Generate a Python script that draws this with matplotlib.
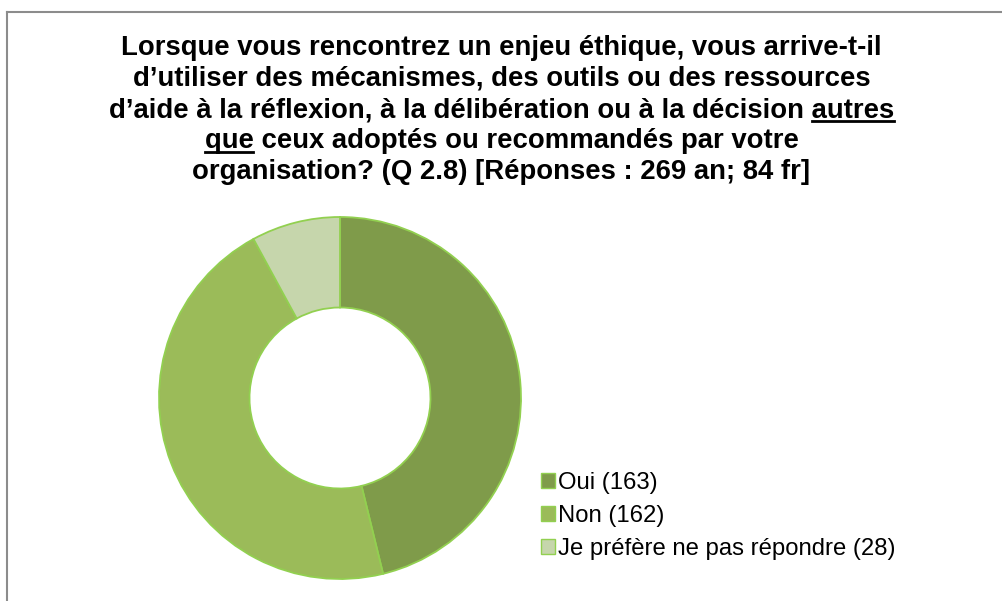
import matplotlib.pyplot as plt
from matplotlib.lines import Line2D

plt.rcParams['font.family'] = ['Liberation Sans', 'DejaVu Sans']

labels = ['Oui (163)', 'Non (162)', 'Je préfère ne pas répondre (28)']
counts = [163, 162, 28]
colors = ['#7F9B4A', '#9BBB59', '#C6D6AC']

title_lines = [
    'Lorsque vous rencontrez un enjeu éthique, vous arrive-t-il',
    'd’utiliser des mécanismes, des outils ou des ressources',
    'd’aide à la réflexion, à la délibération ou à la décision autres',
    'que ceux adoptés ou recommandés par votre',
    'organisation? (Q 2.8) [Réponses : 269 an; 84 fr]',
]

W, H = 1003, 601
fig = plt.figure(figsize=(W / 100, H / 100), dpi=100)

# border (top and left visible)
fig.add_artist(Line2D([7.5 / W, 7.5 / W], [0, 1 - 11.5 / H], color='#8C8C8C', lw=1.5))
fig.add_artist(Line2D([7.5 / W, 1], [1 - 11.5 / H, 1 - 11.5 / H], color='#8C8C8C', lw=1.5))

# donut
cx, cy, r = 340, 398, 181
ax = fig.add_axes([(cx - r) / W, (H - cy - r) / H, 2 * r / W, 2 * r / H])
ax.pie(counts, colors=colors, startangle=90, counterclock=False, radius=1,
       wedgeprops=dict(width=0.5, edgecolor='#92D050', linewidth=1.3))
ax.set_xlim(-1, 1)
ax.set_ylim(-1, 1)
ax.set_aspect('equal')
ax.axis('off')

# title
fs = 19.8
line_h = 31
y0 = 48
texts = []
for i, line in enumerate(title_lines):
    t = fig.text(0.5, 1 - (y0 + i * line_h) / H, line, ha='center', va='center',
                 fontsize=fs, fontweight='bold')
    texts.append(t)

fig.canvas.draw()
renderer = fig.canvas.get_renderer()


def width_of(s):
    tmp = fig.text(0, 0, s, fontsize=fs, fontweight='bold')
    w = tmp.get_window_extent(renderer).width
    tmp.remove()
    return w


def underline(t, x_start, x_end):
    bb = t.get_window_extent(renderer)
    y = bb.y0 + 2
    fig.add_artist(Line2D([x_start / W, x_end / W], [y / H, y / H], color='black', lw=2))


bb3 = texts[2].get_window_extent(renderer)
underline(texts[2], bb3.x1 - width_of('autres'), bb3.x1)
bb4 = texts[3].get_window_extent(renderer)
underline(texts[3], bb4.x0, bb4.x0 + width_of('que'))

# legend
handles = [plt.Rectangle((0, 0), 1, 1, facecolor=c, edgecolor='#92D050', lw=1) for c in colors]
fig.legend(handles, labels, loc='upper left', bbox_to_anchor=(531 / W, 1 - 462 / H),
           frameon=False, fontsize=17.2, handlelength=0.6, handleheight=0.6,
           handletextpad=0.15, labelspacing=0.47, borderaxespad=0)

fig.savefig('out.png', dpi=100)
